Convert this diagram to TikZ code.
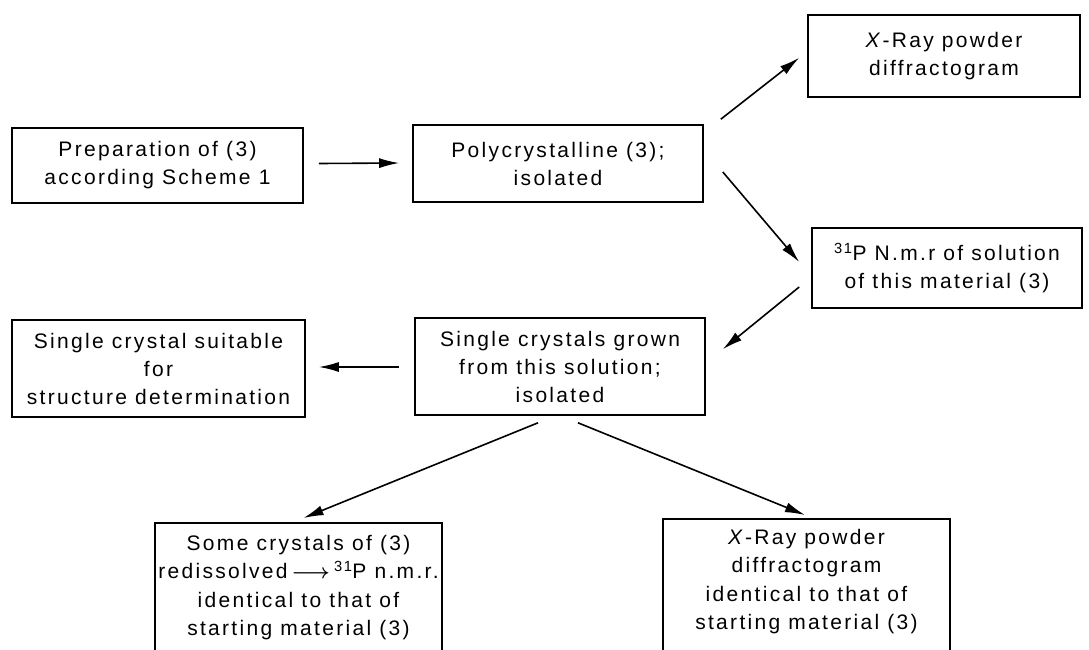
\documentclass[tikz,border=0pt]{standalone}
\usepackage{fontspec}
\setmainfont{Liberation Sans}[LetterSpace=11]
\usetikzlibrary{arrows.meta}
\begin{document}
\begin{tikzpicture}[x=1pt,y=-1pt,
  box/.style={draw, line width=1.6pt, inner sep=0pt, align=center, font=\fontsize{21}{28}\selectfont},
  openbox/.style={draw, line width=1.6pt, inner sep=0pt, anchor=north, font=\fontsize{21}{28.5}\selectfont},
  arr/.style={line width=1.6pt, -{Latex[length=20pt,width=10pt]}}]
\useasboundingbox (0,0) rectangle (1089,649);
\clip (0,0) rectangle (1089,649);
\node[box, minimum width=291pt, minimum height=75pt] (A) at (157.5,165.5) {Preparation of (3)\\according Scheme 1};
\node[box, minimum width=290pt, minimum height=77pt] (B) at (558,163.5) {Polycrystalline (3);\\isolated};
\node[box, minimum width=272pt, minimum height=82pt] (C) at (944,56) {\textit{X}-Ray powder\\diffractogram};
\node[box, minimum width=270pt, minimum height=80pt] (D) at (947,268) {\textsuperscript{31}P N.m.r of solution\\of this material (3)};
\node[box, minimum width=290pt, minimum height=97pt] (E) at (560,366.5) {Single crystals grown\\from this solution;\\isolated};
\node[box, minimum width=293pt, minimum height=97pt] (F) at (158.5,368.5) {Single crystal suitable\\for\\structure determination};
\node[openbox] (G) at (298.5,522) {\begin{minipage}[t][190pt][t]{287pt}\centering\vspace*{12pt}Some crystals of (3)\\redissolved{\boldmath$\,\longrightarrow\,$}\textsuperscript{31}P n.m.r.\\identical to that of\\starting material (3)\end{minipage}};
\node[openbox] (H) at (806.5,518) {\begin{minipage}[t][190pt][t]{287pt}\centering\vspace*{10pt}\textit{X}-Ray powder\\diffractogram\\identical to that of\\starting material (3)\end{minipage}};
\draw[arr] ([shift={(15,-2)}]A.east) -- ([shift={(-13,-0.5)}]B.west);
\draw[arr] ([shift={(17,-5)}]B.north east) -- ([shift={(-8,-40)}]C.south west);
\draw[arr] ([shift={(19,8.5)}]B.east) -- ([shift={(-12,-6)}]D.west);
\draw[arr] ([shift={(-12,19)}]D.west) -- ([shift={(17,32)}]E.north east);
\draw[arr] ([shift={(-15,0.5)}]E.west) -- ([shift={(13,-1.5)}]F.east);
\draw[arr] ([shift={(-22,7)}]E.south) -- ([shift={(5,-4)}]G.north);
\draw[arr] ([shift={(18,7)}]E.south) -- ([shift={(-1.5,-3)}]H.north);
\end{tikzpicture}
\end{document}
